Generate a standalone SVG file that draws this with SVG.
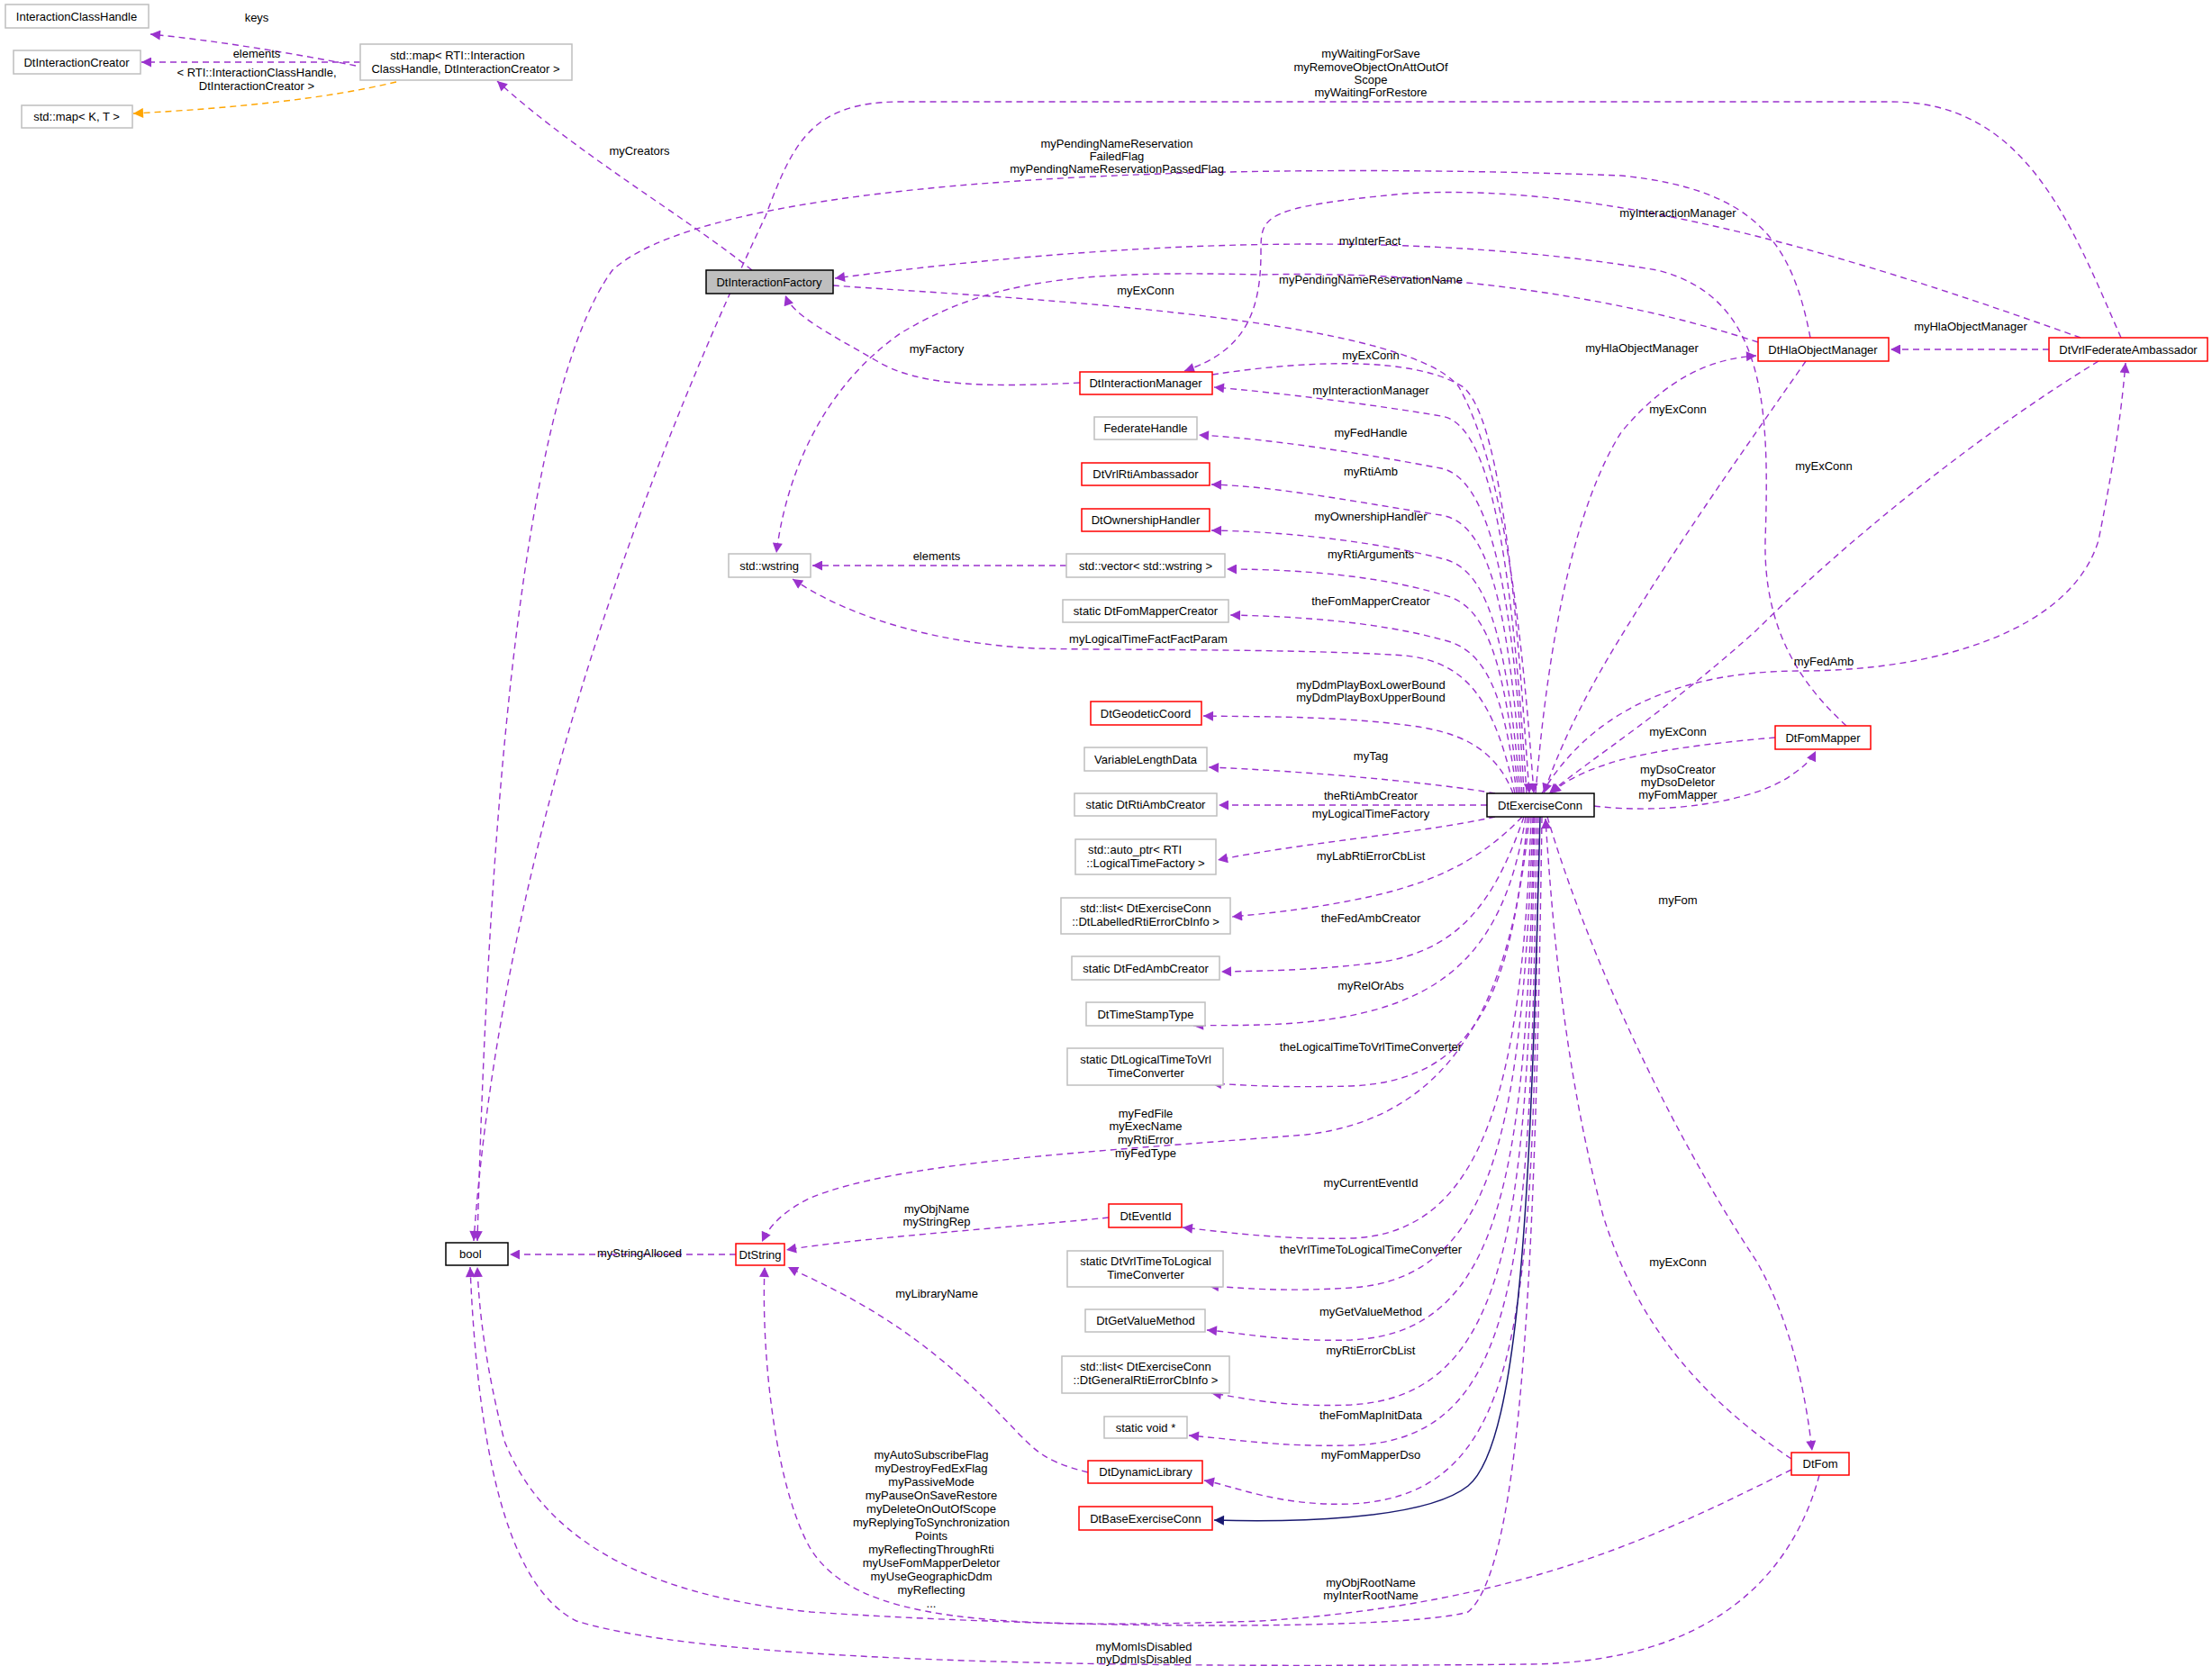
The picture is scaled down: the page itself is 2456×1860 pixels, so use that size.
<svg xmlns="http://www.w3.org/2000/svg" width="2456" height="1860" viewBox="0 0 2456 1860">
<style>
text{font-family:"Liberation Sans",Arial,sans-serif;font-size:13px;fill:#000;text-anchor:middle}
.n{fill:#fff;stroke:#bfbfbf;stroke-width:1.5}
.r{fill:#fff;stroke:#ff0000;stroke-width:1.5}
.k{fill:#fff;stroke:#000;stroke-width:1.5}
.e{fill:none;stroke:#9a32cd;stroke-width:1.4;stroke-dasharray:7,5;marker-end:url(#a)}
.o{fill:none;stroke:#ffa500;stroke-width:1.4;stroke-dasharray:7,5;marker-end:url(#b)}
.s{fill:none;stroke:#191970;stroke-width:1.5;marker-end:url(#c)}
</style>
<defs>
<marker id="a" viewBox="0 0 10 10" refX="10" refY="5" markerWidth="15" markerHeight="11" markerUnits="userSpaceOnUse" orient="auto"><path d="M0,0L10,5L0,10z" fill="#9a32cd"/></marker>
<marker id="b" viewBox="0 0 10 10" refX="10" refY="5" markerWidth="15" markerHeight="11" markerUnits="userSpaceOnUse" orient="auto"><path d="M0,0L10,5L0,10z" fill="#ffa500"/></marker>
<marker id="c" viewBox="0 0 10 10" refX="10" refY="5" markerWidth="15" markerHeight="11" markerUnits="userSpaceOnUse" orient="auto"><path d="M0,0L10,5L0,10z" fill="#191970"/></marker>
</defs>
<rect width="2456" height="1860" fill="#fff"/>
<g id="edges">
<path class="e" d="M395,73 C330,60 240,45 167,38"/><text x="285" y="24">keys</text>
<path class="e" d="M400,69 L157,69"/><text x="285" y="64">elements</text>
<path class="o" d="M440,91 C360,110 260,120 148,126"/><text x="285" y="85">&lt; RTI::InteractionClassHandle,</text><text x="285" y="100">DtInteractionCreator &gt;</text>
<path class="e" d="M835,300 C760,240 640,170 552,90"/><text x="710" y="172">myCreators</text>
<path class="e" d="M925,317 C1100,330 1560,350 1620,430 C1670,520 1690,700 1703,881"/><text x="1272" y="327">myExConn</text>
<path class="e" d="M1199,425 C1100,430 1020,430 972,400 C920,370 880,350 872,328"/><text x="1040" y="392">myFactory</text>
<path class="e" d="M2050,806 C2000,760 1958,700 1960,600 C1965,450 1960,330 1840,300 C1600,260 1300,260 927,309"/><text x="1521" y="272">myInterFact</text>
<path class="e" d="M2310,375 C2100,300 1800,200 1560,215 C1400,230 1400,240 1400,280 C1400,350 1380,390 1315,412"/><text x="1863" y="241">myInteractionManager</text>
<path class="e" d="M1952,380 C1800,330 1600,300 1400,305 C1200,300 1100,310 1000,370 C900,440 870,550 862,614"/><text x="1522" y="315">myPendingNameReservationName</text>
<path class="e" d="M2010,375 C1990,270 1950,210 1800,195 C1400,180 800,190 680,300 C570,450 540,1000 530,1378"/><text x="1240" y="164">myPendingNameReservation</text><text x="1240" y="178">FailedFlag</text><text x="1240" y="192">myPendingNameReservationPassedFlag</text>
<path class="e" d="M2355,375 C2300,250 2250,113 2100,113 L1000,113 C900,113 880,160 850,240 C750,450 560,900 526,1378"/><text x="1522" y="64">myWaitingForSave</text><text x="1522" y="79">myRemoveObjectOnAttOutOf</text><text x="1522" y="93">Scope</text><text x="1522" y="107">myWaitingForRestore</text>
<path class="e" d="M1346,416 C1450,400 1570,395 1625,430 C1670,470 1685,700 1698,881"/><text x="1522" y="399">myExConn</text>
<path class="e" d="M1695,881 C1680,650 1660,470 1600,462 C1530,450 1420,436 1348,430"/><text x="1522" y="438">myInteractionManager</text>
<path class="e" d="M1692,881 C1680,640 1650,530 1600,520 C1520,505 1420,488 1331,483"/><text x="1522" y="485">myFedHandle</text>
<path class="e" d="M1690,881 C1675,660 1650,580 1600,572 C1520,560 1420,540 1345,538"/><text x="1522" y="528">myRtiAmb</text>
<path class="e" d="M1688,881 C1672,700 1650,630 1600,620 C1520,600 1420,590 1345,589"/><text x="1522" y="578">myOwnershipHandler</text>
<path class="e" d="M1686,881 C1670,730 1650,670 1600,660 C1520,636 1420,632 1362,632"/><text x="1522" y="620">myRtiArguments</text>
<path class="e" d="M1184,628 L902,628"/><text x="1040" y="622">elements</text>
<path class="e" d="M1684,881 C1670,770 1650,720 1600,710 C1520,688 1420,684 1366,683"/><text x="1522" y="672">theFomMapperCreator</text>
<path class="e" d="M1682,881 C1660,780 1630,735 1560,728 C1450,720 1200,722 1150,720 C1050,715 950,690 880,643"/><text x="1275" y="714">myLogicalTimeFactFactParam</text>
<path class="e" d="M1680,881 C1660,830 1620,812 1560,805 C1480,795 1400,796 1336,795"/><text x="1522" y="765">myDdmPlayBoxLowerBound</text><text x="1522" y="779">myDdmPlayBoxUpperBound</text>
<path class="e" d="M1660,881 C1600,870 1450,856 1342,852"/><text x="1522" y="844">myTag</text>
<path class="e" d="M1651,894 L1353,894"/><text x="1522" y="888">theRtiAmbCreator</text>
<path class="e" d="M1660,907 C1580,925 1450,935 1352,955"/><text x="1522" y="908">myLogicalTimeFactory</text>
<path class="e" d="M1690,907 C1640,960 1580,985 1500,1000 C1450,1010 1400,1015 1368,1018"/><text x="1522" y="955">myLabRtiErrorCbList</text>
<path class="e" d="M1692,907 C1660,1000 1620,1060 1520,1070 C1450,1078 1400,1078 1356,1079"/><text x="1522" y="1024">theFedAmbCreator</text>
<path class="e" d="M1694,907 C1670,1060 1600,1120 1450,1135 C1400,1140 1340,1138 1325,1139"/><text x="1522" y="1099">myRelOrAbs</text>
<path class="e" d="M1696,907 C1680,1100 1640,1200 1500,1206 C1420,1208 1380,1205 1345,1203"/><text x="1522" y="1167">theLogicalTimeToVrlTimeConverter</text>
<path class="e" d="M1698,907 C1680,1100 1620,1240 1450,1260 C1200,1280 1000,1290 900,1330 C870,1345 855,1360 846,1379"/><text x="1272" y="1241">myFedFile</text><text x="1272" y="1255">myExecName</text><text x="1272" y="1270">myRtiError</text><text x="1272" y="1285">myFedType</text>
<path class="e" d="M1700,907 C1690,1200 1650,1370 1500,1375 C1420,1377 1350,1367 1313,1363"/><text x="1522" y="1318">myCurrentEventId</text>
<path class="e" d="M1231,1352 C1100,1365 950,1375 873,1388"/><text x="1040" y="1347">myObjName</text><text x="1040" y="1361">myStringRep</text>
<path class="e" d="M817,1393 L566,1393"/><text x="710" y="1396">myStringAlloced</text>
<path class="e" d="M1702,907 C1690,1250 1660,1420 1500,1430 C1420,1435 1380,1430 1342,1428"/><text x="1522" y="1392">theVrlTimeToLogicalTimeConverter</text>
<path class="e" d="M1703,907 C1695,1300 1670,1480 1500,1488 C1420,1490 1380,1480 1340,1477"/><text x="1522" y="1461">myGetValueMethod</text>
<path class="e" d="M1704,907 C1697,1350 1680,1550 1500,1560 C1420,1563 1380,1552 1345,1547"/><text x="1522" y="1504">myRtiErrorCbList</text>
<path class="e" d="M1706,907 C1700,1400 1690,1600 1500,1605 C1420,1607 1370,1598 1320,1594"/><text x="1522" y="1576">theFomMapInitData</text>
<path class="e" d="M1708,907 C1703,1450 1700,1660 1500,1670 C1420,1673 1370,1650 1337,1644"/><text x="1522" y="1620">myFomMapperDso</text>
<path class="e" d="M1208,1635 C1150,1620 1150,1610 1100,1560 C1000,1460 920,1430 875,1407"/><text x="1040" y="1441">myLibraryName</text>
<path class="s" d="M1710,907 C1700,1300 1690,1600 1630,1650 C1580,1690 1420,1690 1348,1688"/>
<path class="e" d="M1712,907 C1705,1400 1690,1740 1630,1790 C1560,1810 1200,1810 900,1790 C700,1770 600,1700 560,1600 C540,1520 532,1460 530,1407"/>
<text x="1034" y="1620">myAutoSubscribeFlag</text><text x="1034" y="1635">myDestroyFedExFlag</text><text x="1034" y="1650">myPassiveMode</text><text x="1034" y="1665">myPauseOnSaveRestore</text><text x="1034" y="1680">myDeleteOnOutOfScope</text><text x="1034" y="1695">myReplyingToSynchronization</text><text x="1034" y="1710">Points</text><text x="1034" y="1725">myReflectingThroughRti</text><text x="1034" y="1740">myUseFomMapperDeletor</text><text x="1034" y="1755">myUseGeographicDdm</text><text x="1034" y="1770">myReflecting</text><text x="1034" y="1785">...</text>
<path class="e" d="M1989,1632 C1850,1700 1700,1780 1400,1800 C1100,1810 950,1800 900,1720 C860,1650 845,1500 849,1407"/><text x="1522" y="1762">myObjRootName</text><text x="1522" y="1776">myInterRootName</text>
<path class="e" d="M2020,1638 C1990,1750 1900,1845 1700,1848 C1300,1852 800,1850 640,1800 C560,1760 530,1600 522,1407"/><text x="1270" y="1833">myMomIsDisabled</text><text x="1270" y="1847">myDdmIsDisabled</text>
<path class="e" d="M1705,881 C1720,700 1750,560 1800,480 C1850,420 1900,398 1950,395"/><text x="1823" y="391">myHlaObjectManager</text>
<path class="e" d="M2005,401 C1950,480 1850,620 1780,740 C1740,810 1725,850 1714,881"/><text x="1863" y="459">myExConn</text>
<path class="e" d="M2275,388 L2099,388"/><text x="2188" y="367">myHlaObjectManager</text>
<path class="e" d="M2330,401 C2200,480 2050,600 1950,700 C1850,790 1770,840 1720,881"/><text x="2025" y="522">myExConn</text>
<path class="e" d="M1712,881 C1760,800 1850,745 2000,745 C2150,745 2300,700 2330,600 C2350,500 2356,450 2360,403"/><text x="2025" y="739">myFedAmb</text>
<path class="e" d="M1971,819 C1900,825 1820,835 1780,850 C1750,860 1735,870 1722,881"/><text x="1863" y="817">myExConn</text>
<path class="e" d="M1770,895 C1850,905 1950,890 1990,860 C2005,850 2012,842 2016,834"/><text x="1863" y="859">myDsoCreator</text><text x="1863" y="873">myDsoDeletor</text><text x="1863" y="887">myFomMapper</text>
<path class="e" d="M1718,907 C1760,1050 1850,1250 1950,1400 C1990,1470 2005,1550 2012,1611"/><text x="1863" y="1004">myFom</text>
<path class="e" d="M1989,1620 C1900,1560 1820,1480 1780,1350 C1740,1200 1725,1050 1716,909"/><text x="1863" y="1406">myExConn</text>
</g>
<g id="InteractionClassHandle"><rect class="n" x="6" y="5" width="159" height="26"/><text x="85" y="23">InteractionClassHandle</text></g>
<g id="DtInteractionCreator"><rect class="n" x="15" y="56" width="141" height="26"/><text x="85" y="74">DtInteractionCreator</text></g>
<g id="stdmapKT"><rect class="n" x="24" y="117" width="123" height="25"/><text x="85" y="134">std::map&lt; K, T &gt;</text></g>
<g id="stdmapRTI"><rect class="n" x="400" y="49" width="235" height="40"/><text x="508" y="66">std::map&lt; RTI::Interaction</text><text x="517" y="81">ClassHandle, DtInteractionCreator &gt;</text></g>
<g id="DtInteractionFactory"><rect x="784" y="300" width="141" height="26" fill="#bfbfbf" stroke="#000" stroke-width="1.5"/><text x="854" y="318">DtInteractionFactory</text></g>
<g id="stdwstring"><rect class="n" x="809" y="615" width="91" height="26"/><text x="854" y="633">std::wstring</text></g>
<g id="bool"><rect class="k" x="495" y="1380" width="69" height="25"/><text x="510" y="1397" style="text-anchor:start">bool</text></g>
<g id="DtString"><rect class="r" x="817" y="1381" width="54" height="24"/><text x="844" y="1398">DtString</text></g>
<g id="DtInteractionManager"><rect class="r" x="1199" y="413" width="147" height="25"/><text x="1272" y="430">DtInteractionManager</text></g>
<g id="FederateHandle"><rect class="n" x="1215" y="463" width="114" height="25"/><text x="1272" y="480">FederateHandle</text></g>
<g id="DtVrlRtiAmbassador"><rect class="r" x="1201" y="514" width="142" height="25"/><text x="1272" y="531">DtVrlRtiAmbassador</text></g>
<g id="DtOwnershipHandler"><rect class="r" x="1201" y="565" width="142" height="25"/><text x="1272" y="582">DtOwnershipHandler</text></g>
<g id="stdvector"><rect class="n" x="1184" y="615" width="176" height="26"/><text x="1272" y="633">std::vector&lt; std::wstring &gt;</text></g>
<g id="DtFomMapperCreator"><rect class="n" x="1180" y="666" width="184" height="25"/><text x="1272" y="683">static DtFomMapperCreator</text></g>
<g id="DtGeodeticCoord"><rect class="r" x="1211" y="779" width="123" height="26"/><text x="1272" y="797">DtGeodeticCoord</text></g>
<g id="VariableLengthData"><rect class="n" x="1204" y="830" width="136" height="26"/><text x="1272" y="848">VariableLengthData</text></g>
<g id="DtRtiAmbCreator"><rect class="n" x="1193" y="881" width="158" height="25"/><text x="1272" y="898">static DtRtiAmbCreator</text></g>
<g id="autoptr"><rect class="n" x="1194" y="932" width="156" height="39"/><text x="1260" y="948">std::auto_ptr&lt; RTI</text><text x="1272" y="963">::LogicalTimeFactory &gt;</text></g>
<g id="listLabelled"><rect class="n" x="1178" y="997" width="188" height="40"/><text x="1272" y="1013">std::list&lt; DtExerciseConn</text><text x="1272" y="1028">::DtLabelledRtiErrorCbInfo &gt;</text></g>
<g id="DtFedAmbCreator"><rect class="n" x="1190" y="1062" width="164" height="26"/><text x="1272" y="1080">static DtFedAmbCreator</text></g>
<g id="DtTimeStampType"><rect class="n" x="1206" y="1113" width="132" height="26"/><text x="1272" y="1131">DtTimeStampType</text></g>
<g id="LTtoVrl"><rect class="n" x="1185" y="1164" width="173" height="41"/><text x="1272" y="1181">static DtLogicalTimeToVrl</text><text x="1272" y="1196">TimeConverter</text></g>
<g id="DtEventId"><rect class="r" x="1231" y="1337" width="81" height="26"/><text x="1272" y="1355">DtEventId</text></g>
<g id="VrlToLT"><rect class="n" x="1185" y="1389" width="173" height="40"/><text x="1272" y="1405">static DtVrlTimeToLogical</text><text x="1272" y="1420">TimeConverter</text></g>
<g id="DtGetValueMethod"><rect class="n" x="1205" y="1454" width="133" height="25"/><text x="1272" y="1471">DtGetValueMethod</text></g>
<g id="listGeneral"><rect class="n" x="1179" y="1506" width="186" height="41"/><text x="1272" y="1522">std::list&lt; DtExerciseConn</text><text x="1272" y="1537">::DtGeneralRtiErrorCbInfo &gt;</text></g>
<g id="staticvoid"><rect class="n" x="1226" y="1573" width="92" height="24"/><text x="1272" y="1590">static void *</text></g>
<g id="DtDynamicLibrary"><rect class="r" x="1208" y="1622" width="127" height="25"/><text x="1272" y="1639">DtDynamicLibrary</text></g>
<g id="DtBaseExerciseConn"><rect class="r" x="1198" y="1673" width="148" height="26"/><text x="1272" y="1691">DtBaseExerciseConn</text></g>
<g id="DtExerciseConn"><rect class="k" x="1651" y="881" width="119" height="26"/><text x="1710" y="899">DtExerciseConn</text></g>
<g id="DtHlaObjectManager"><rect class="r" x="1952" y="375" width="145" height="26"/><text x="2024" y="393">DtHlaObjectManager</text></g>
<g id="DtVrlFederateAmbassador"><rect class="r" x="2275" y="375" width="176" height="26"/><text x="2363" y="393">DtVrlFederateAmbassador</text></g>
<g id="DtFomMapper"><rect class="r" x="1971" y="806" width="106" height="26"/><text x="2024" y="824">DtFomMapper</text></g>
<g id="DtFom"><rect class="r" x="1989" y="1613" width="64" height="25"/><text x="2021" y="1630">DtFom</text></g>
</svg>
